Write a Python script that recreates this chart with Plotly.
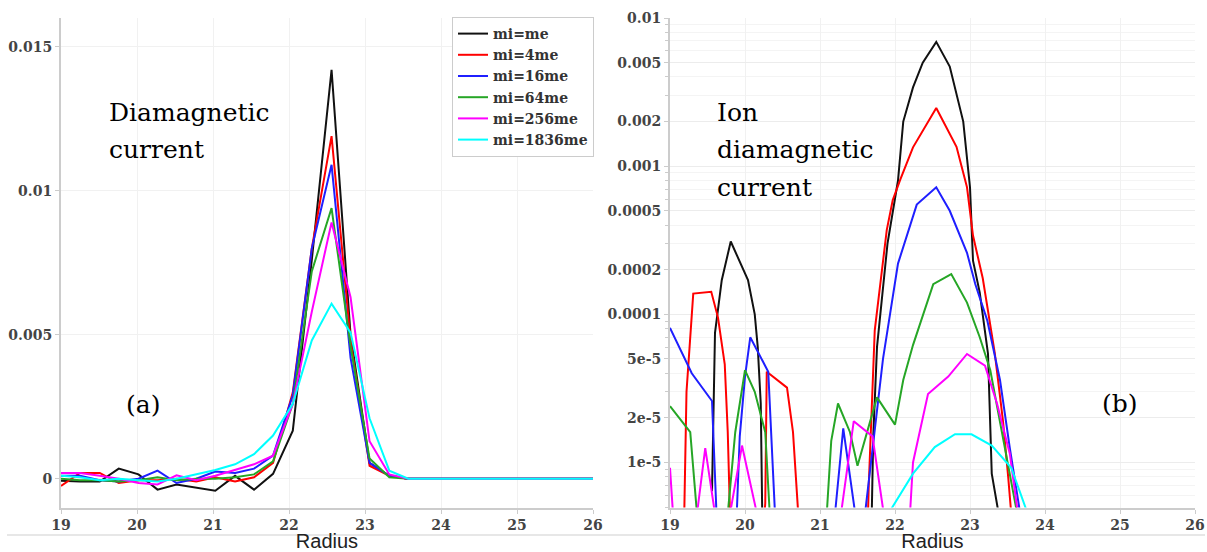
import plotly.graph_objects as go

W, H = 1207, 552

# ---------------- Left panel: Diamagnetic current (linear) ----------------
R_LEFT = [19.00, 19.25, 19.51, 19.76, 20.02, 20.27, 20.52, 20.78, 21.03, 21.29,
          21.54, 21.79, 22.05, 22.30, 22.56, 22.81, 23.06, 23.32, 23.57, 23.83,
          24.08, 24.33, 24.59, 24.84, 25.10, 25.35, 25.60, 25.86, 26.00]

DIA_ME = [-0.00007, -0.0001, -0.0001, 0.00035, 0.00015, -0.00038, -0.0002, -0.0003, -0.00042, 0.0001,
          -0.00038, 0.00017, 0.00167, 0.0076, 0.0142, 0.005, 0.00055, 0.0001, 0.0, 0.0,
          0.0, 0.0, 0.0, 0.0, 0.0, 0.0, 0.0, 0.0, 0.0]
DIA_4ME = [-0.00025, 0.0002, 0.0002, -0.00015, -0.00005, -0.00005, 0.0, -0.0001, 0.00005, -0.0001,
           0.00005, 0.00055, 0.003, 0.008, 0.0119, 0.0048, 0.00045, 0.0001, 0.0, 0.0,
           0.0, 0.0, 0.0, 0.0, 0.0, 0.0, 0.0, 0.0, 0.0]
DIA_16ME = [0.0001, 0.0001, -0.00005, -0.0001, 0.0, 0.00028, -0.00015, 0.0, 0.00025, 0.0002,
            0.00035, 0.0008, 0.0029, 0.008, 0.0109, 0.0042, 0.00055, 0.0001, 0.0, 0.0,
            0.0, 0.0, 0.0, 0.0, 0.0, 0.0, 0.0, 0.0, 0.0]
DIA_64ME = [0.0, -0.00005, -0.00005, -0.0001, -0.00005, 0.00005, -0.00005, 0.0, 0.0, 0.00005,
            0.00015, 0.0006, 0.0026, 0.0072, 0.0094, 0.0046, 0.0007, 0.00005, 0.0, 0.0,
            0.0, 0.0, 0.0, 0.0, 0.0, 0.0, 0.0, 0.0, 0.0]
DIA_256ME = [0.0002, 0.0002, 0.0001, 0.0, -0.00015, -0.0002, 0.00012, -0.00005, 0.0001, 0.0003,
             0.0005, 0.0008, 0.0026, 0.0058, 0.0089, 0.0063, 0.0013, 0.00015, 0.0, 0.0,
             0.0, 0.0, 0.0, 0.0, 0.0, 0.0, 0.0, 0.0, 0.0]
DIA_1836ME = [0.0001, 0.00005, -0.00005, 0.0, -0.00005, -0.0001, 0.0, 0.00015, 0.0003, 0.0005,
              0.00085, 0.0015, 0.0026, 0.0048, 0.00608, 0.00507, 0.0021, 0.00028, 0.0, 0.0,
              0.0, 0.0, 0.0, 0.0, 0.0, 0.0, 0.0, 0.0, 0.0]

# ---------------- Right panel: Ion diamagnetic current (log) ----------------
ION_ME_R = [19.56, 19.60, 19.69, 19.81, 20.04, 20.13, 20.17, 20.21, 20.23, 21.69,
            21.71, 21.76, 21.90, 22.04, 22.11, 22.24, 22.37, 22.55, 22.73, 22.91,
            23.00, 23.04, 23.13, 23.24, 23.29, 23.40]
ION_ME = [6.4e-6, 7.5e-5, 1.7e-4, 3.1e-4, 1.7e-4, 1.0e-4, 6.0e-5, 2.5e-5, 4.5e-6, 4.5e-6,
          1.5e-5, 6.0e-5, 3.0e-4, 8.0e-4, 2.0e-3, 3.4e-3, 5.0e-3, 6.9e-3, 4.7e-3, 2.0e-3,
          7.2e-4, 2.3e-4, 1.4e-4, 5.4e-5, 8.4e-6, 4.0e-6]

ION_4ME_R = [19.19, 19.22, 19.31, 19.55, 19.64, 19.73, 19.77, 19.80, 20.26, 20.27,
             20.29, 20.56, 20.64, 20.71, 21.64, 21.65, 21.73, 21.89, 21.97, 22.07,
             22.24, 22.55, 22.82, 22.96, 23.04, 23.17, 23.33, 23.44, 23.51, 23.55]
ION_4ME = [4.5e-6, 3.0e-5, 1.38e-4, 1.42e-4, 9.5e-5, 4.6e-5, 1.6e-5, 4.5e-6, 4.5e-6, 5.3e-6,
           4.1e-5, 3.2e-5, 1.6e-5, 4.5e-6, 4.5e-6, 7.0e-6, 7.8e-5, 3.7e-4, 5.9e-4, 8.1e-4,
           1.34e-3, 2.47e-3, 1.35e-3, 7.2e-4, 3.4e-4, 1.75e-4, 5.5e-5, 1.9e-5, 7.9e-6, 4.5e-6]

ION_16ME_R = [19.00, 19.29, 19.56, 19.62, 19.89, 19.93, 20.00, 20.07, 20.31, 20.36,
              20.40, 21.20, 21.31, 21.47, 21.60, 21.84, 22.04, 22.29, 22.55, 22.73,
              22.96, 23.07, 23.23, 23.40, 23.53, 23.67]
ION_16ME = [8.1e-5, 4.0e-5, 2.6e-5, 4.5e-6, 4.5e-6, 1.5e-5, 3.8e-5, 7.0e-5, 4.1e-5, 1.3e-5,
            4.5e-6, 4.5e-6, 1.7e-5, 4.5e-6, 4.5e-6, 5.0e-5, 2.2e-4, 5.5e-4, 7.2e-4, 5.0e-4,
            2.6e-4, 1.6e-4, 9.1e-5, 3.6e-5, 1.26e-5, 4.5e-6]

ION_64ME_R = [19.00, 19.27, 19.36, 19.77, 19.87, 20.00, 20.13, 20.27, 20.33, 21.09,
              21.15, 21.24, 21.40, 21.50, 21.76, 22.00, 22.11, 22.24, 22.51, 22.75,
              22.96, 23.13, 23.27, 23.44, 23.63]
ION_64ME = [2.4e-5, 1.6e-5, 4.5e-6, 4.5e-6, 1.6e-5, 4.2e-5, 3.0e-5, 1.6e-5, 4.5e-6, 4.5e-6,
            1.4e-5, 2.5e-5, 1.6e-5, 9.5e-6, 2.75e-5, 1.8e-5, 3.6e-5, 6.2e-5, 1.6e-4, 1.87e-4,
            1.2e-4, 7.0e-5, 4.2e-5, 1.5e-5, 4.5e-6]

ION_256ME_R = [19.00, 19.04, 19.36, 19.47, 19.60, 19.80, 19.96, 20.16, 21.28, 21.45,
               21.70, 21.85, 22.20, 22.24, 22.44, 22.71, 22.96, 23.20, 23.36, 23.53,
               23.64]
ION_256ME = [9.2e-6, 4.5e-6, 4.5e-6, 1.25e-5, 4.5e-6, 4.5e-6, 1.3e-5, 4.5e-6, 4.5e-6, 1.9e-5,
             1.5e-5, 4.5e-6, 4.5e-6, 1.0e-5, 2.9e-5, 3.8e-5, 5.4e-5, 4.5e-5, 2.5e-5, 1.15e-5,
             4.5e-6]

ION_1836ME_R = [21.91, 22.24, 22.53, 22.80, 23.02, 23.29, 23.55, 23.77]
ION_1836ME = [4.5e-6, 8.4e-6, 1.27e-5, 1.55e-5, 1.55e-5, 1.3e-5, 9.2e-6, 4.5e-6]

NAMES = ["mi=me", "mi=4me", "mi=16me", "mi=64me", "mi=256me", "mi=1836me"]
COLORS = ["#111111", "#ff0000", "#1f1fff", "#26a626", "#ff00ff", "#00ffff"]

LEFT_SERIES = [DIA_ME, DIA_4ME, DIA_16ME, DIA_64ME, DIA_256ME, DIA_1836ME]
RIGHT_SERIES = [(ION_ME_R, ION_ME), (ION_4ME_R, ION_4ME), (ION_16ME_R, ION_16ME),
                (ION_64ME_R, ION_64ME), (ION_256ME_R, ION_256ME), (ION_1836ME_R, ION_1836ME)]

LEFT_YTICKS = [0, 0.005, 0.01, 0.015]
LEFT_YTEXT = ["0", "0.005", "0.01", "0.015"]
RIGHT_YTICKS = [1e-5, 2e-5, 5e-5, 1e-4, 2e-4, 5e-4, 1e-3, 2e-3, 5e-3, 1e-2]
RIGHT_YTEXT = ["1e-5", "2e-5", "5e-5", "0.0001", "0.0002", "0.0005", "0.001", "0.002", "0.005", "0.01"]
RIGHT_MINOR = [m * 10.0 ** e for e in (-6, -5, -4, -3) for m in range(1, 10)]
XTICKS = [19, 20, 21, 22, 23, 24, 25, 26]

fig = go.Figure()
for name, col, ys in zip(NAMES, COLORS, LEFT_SERIES):
    fig.add_trace(go.Scatter(x=R_LEFT, y=ys, mode="lines", name=name,
                             line=dict(color=col, width=2), xaxis="x", yaxis="y"))
for name, col, (xs, ys) in zip(NAMES, COLORS, RIGHT_SERIES):
    fig.add_trace(go.Scatter(x=xs, y=ys, mode="lines", name=name, showlegend=False,
                             line=dict(color=col, width=2), xaxis="x2", yaxis="y2"))

tickfont = dict(family="DejaVu Serif", size=14, color="#444", weight="bold")
titlefont = dict(family="Liberation Sans", size=20, color="#222")
grid = "#f1f1f1"
axline = "#cccccc"

ydom = [1 - 507.5 / H, 1 - 18 / H]
common_x = dict(range=[19, 26], tickvals=XTICKS, showline=True, linecolor=axline, linewidth=2,
                showgrid=True, gridcolor=grid, zeroline=False, ticks="outside", ticklen=4,
                tickcolor=axline, tickfont=tickfont, automargin=False,
                title=dict(text="Radius", font=titlefont, standoff=2))

fig.update_layout(
    width=W, height=H, margin=dict(l=0, r=0, t=0, b=0),
    paper_bgcolor="white", plot_bgcolor="white",
    xaxis=dict(domain=[61 / W, 593 / W], anchor="y", **common_x),
    xaxis2=dict(domain=[670 / W, 1195 / W], anchor="y2", **common_x),
    yaxis=dict(domain=ydom, anchor="x", range=[-0.001, 0.016], tickvals=LEFT_YTICKS,
               ticktext=LEFT_YTEXT, showline=True, linecolor=axline, linewidth=2,
               showgrid=True, gridcolor=grid, zeroline=False, ticks="outside", ticklen=4,
               tickcolor=axline, tickfont=tickfont, automargin=False),
    yaxis2=dict(domain=ydom, anchor="x2", type="log", range=[-5.304, -2],
                tickvals=RIGHT_YTICKS, ticktext=RIGHT_YTEXT, showline=True, linecolor=axline,
                linewidth=2, showgrid=True, gridcolor="#ececec", zeroline=False,
                ticks="outside", ticklen=4, tickcolor=axline, tickfont=tickfont,
                automargin=False,
                minor=dict(tickvals=RIGHT_MINOR, ticks="outside", ticklen=3,
                           tickcolor=axline, showgrid=True, gridcolor="#f4f4f4")),
    legend=dict(x=594 / W, xanchor="right", y=1 - 17 / H, yanchor="top",
                bgcolor="white", bordercolor="#cccccc", borderwidth=1,
                font=dict(family="DejaVu Serif", size=14, color="#333", weight="bold"),
                tracegroupgap=0, itemwidth=30),
    showlegend=True,
)

ann_font = dict(family="DejaVu Serif", size=25, color="black")
# text lines: (text, left x px, vertical centre px)
LABEL_LINES = [("Diamagnetic", 107, 112), ("current", 107, 149),
               ("Ion", 715, 112), ("diamagnetic", 715, 149), ("current", 715, 187)]
for txt, px, py in LABEL_LINES:
    fig.add_annotation(x=px / W, y=1 - py / H, xref="paper", yref="paper", xanchor="left",
                       yanchor="middle", showarrow=False, text=txt, font=ann_font)
fig.add_annotation(x=124 / W, y=1 - 421 / H, xref="paper", yref="paper", showarrow=False,
                   text="(a)", font=ann_font)
fig.add_annotation(x=1140 / W, y=1 - 420 / H, xref="paper", yref="paper", showarrow=False,
                   text="(b)", font=ann_font)

fig.add_shape(type="line", xref="paper", yref="paper", x0=7 / W, x1=1205 / W,
              y0=1 - 535 / H, y1=1 - 535 / H, line=dict(color="#cfcfcf", width=1), layer="below")

fig.write_html("out.html")
